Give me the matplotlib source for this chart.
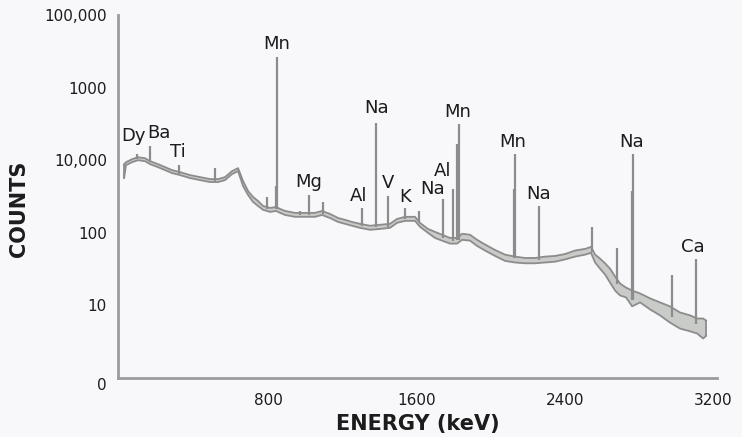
import matplotlib
matplotlib.use("Agg")
import matplotlib.pyplot as plt
from matplotlib.ticker import FixedLocator, FixedFormatter, NullLocator

# ---------------- data ----------------
energy = [22, 32, 65, 97, 135, 162, 205, 243, 281, 324, 378, 432, 486, 529, 567,
          604, 637, 664, 691, 718, 745, 772, 810, 842, 864, 891, 944, 998, 1052,
          1090, 1133, 1177, 1214, 1252, 1295, 1349, 1403, 1457, 1495, 1538, 1592,
          1619, 1662, 1700, 1738, 1781, 1819, 1846, 1889, 1927, 1970, 2024, 2078,
          2132, 2186, 2240, 2294, 2348, 2402, 2456, 2510, 2542, 2564, 2591, 2618,
          2645, 2672, 2699, 2731, 2764, 2807, 2861, 2914, 2968, 3022, 3076, 3115,
          3147, 3163]
upper = [882, 939, 1032, 1099, 1065, 969, 882, 802, 730, 685, 623, 585, 549, 549, 585,
         707, 777, 516, 376, 311, 274, 234, 220, 227, 213, 200, 188, 188, 188,
         200, 182, 160, 151, 141, 133, 125, 129, 133, 155, 166, 166,
         137, 113, 103, 94, 85, 85, 97, 94, 80, 69, 58, 50,
         47, 45, 45, 47, 48, 51, 57, 60, 64, 50, 44, 38,
         32, 25, 20, 17.6, 16, 14.6, 12.5, 11, 9.7, 8.0, 7.3, 6.6,
         6.6, 6.2]
lower = [567, 855, 939, 1000, 969, 882, 802, 730, 664, 623, 567, 532, 500, 500, 532,
         643, 707, 440, 332, 266, 234, 207, 194, 200, 188, 176, 166, 166, 166,
         176, 160, 141, 133, 125, 117, 110, 113, 117, 137, 146, 146,
         121, 100, 85, 78, 71, 71, 80, 78, 66, 57, 48, 41,
         39, 38, 38, 39, 40, 43, 47, 50, 53, 39, 32, 26.6,
         20.6, 16, 13.7, 12.9, 9.7, 11, 8.8, 7.3, 5.8, 4.8, 4.4, 4.1,
         3.5, 3.8]

peak_energy = [92, 162, 318, 513, 793, 842, 847, 971, 1020, 1096, 1306, 1382, 1446,
               1538, 1614, 1743, 1797, 1819, 1830, 2127, 2132, 2261, 2547, 2682,
               2764, 2769, 2979, 3109]
peak_top = [1200, 1555, 855, 777, 311, 440, 26600, 200, 332, 266, 220, 3210, 321,
            220, 200, 292, 401, 1650, 3110, 401, 1208, 234, 121, 62,
            376, 1208, 26, 44]
peak_base = [1030, 939, 650, 520, 215, 215, 215, 175, 175, 180, 125, 120, 120,
             155, 140, 85, 78, 80, 80, 45, 45, 42, 55, 20,
             12, 12, 7, 5.5]

label_text = ["Dy", "Ba", "Ti", "Mn", "Mg", "Al", "Na", "V", "K", "Na", "Al", "Mn",
              "Mn", "Na", "Na", "Ca"]
label_energy = [75, 210, 313, 847, 1020, 1290, 1382, 1446, 1538, 1689, 1743, 1824,
                2121, 2261, 2763, 3092]
label_count = [2150, 2370, 1300, 40000, 500, 320, 5200, 485, 311, 400, 700, 4610,
               1780, 342, 1780, 64]

ytick_values = [1, 10, 100, 1000, 10000, 100000]
ytick_labels = ["0", "10", "100", "10,000", "1000", "100,000"]
xtick_values = [800, 1600, 2400, 3200]
xtick_labels = ["800", "1600", "2400", "3200"]

# ---------------- figure ----------------
W, H = 742, 437
fig = plt.figure(figsize=(W / 100, H / 100), dpi=100)
bg = "#f8f8fb"
fig.patch.set_facecolor(bg)
ax = fig.add_axes([118 / W, (H - 378) / H, (717 - 118) / W, (378 - 15) / H])
ax.set_facecolor(bg)

band_fill = "#c8cbc7"
edge = "#8c8c8c"
ax.fill_between(energy, lower, upper, facecolor=band_fill, edgecolor="none", zorder=2)
ax.plot(energy, upper, color=edge, lw=1.3, zorder=3)
ax.plot(energy, lower, color=edge, lw=1.3, zorder=3)
ax.vlines([energy[0]], [lower[0]], [upper[0]], color=edge, lw=1.3, zorder=3)
ax.vlines([energy[-1]], [lower[-1]], [upper[-1]], color=edge, lw=1.3, zorder=3)
ax.vlines(peak_energy, peak_base, peak_top, color=edge, lw=1.6, zorder=4)

txt_color = "#1c1c1c"
for t, e, c in zip(label_text, label_energy, label_count):
    ax.text(e, c, t, ha="center", va="center", fontsize=13, color=txt_color,
            zorder=5)

ax.set_yscale("log")
ax.set_xlim(-11, 3222)
ax.set_ylim(1, 100000)
ax.yaxis.set_major_locator(FixedLocator(ytick_values))
ax.yaxis.set_major_formatter(FixedFormatter(ytick_labels))
ax.yaxis.set_minor_locator(NullLocator())
ax.set_xticks(xtick_values)
ax.set_xticklabels(xtick_labels)
ax.tick_params(axis="both", length=0, labelsize=11, colors=txt_color)
ax.tick_params(axis="y", pad=8)
ax.tick_params(axis="x", pad=11)
# the "0" label sits slightly below the axis line in the reference
ax.get_yticklabels()[0].set_va("top")

for s in ["top", "right"]:
    ax.spines[s].set_visible(False)
for s in ["left", "bottom"]:
    ax.spines[s].set_color("#9b9b9b")
    ax.spines[s].set_linewidth(2.0)

fig.text(19 / W, 1 - 209 / H, "COUNTS", rotation=90, ha="center", va="center",
         fontsize=15, fontweight="bold", color=txt_color)
fig.text(418 / W, 1 - 424 / H, "ENERGY (keV)", ha="center", va="center",
         fontsize=15, fontweight="bold", color=txt_color)

fig.savefig("out.png", dpi=100, facecolor=bg)
